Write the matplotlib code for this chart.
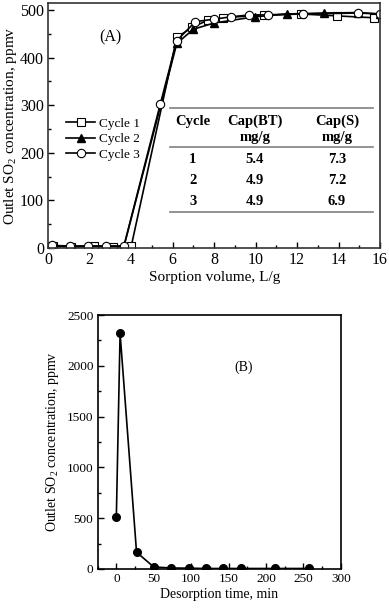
import matplotlib
matplotlib.use("Agg")
import matplotlib.pyplot as plt
from matplotlib.ticker import MultipleLocator

plt.rcParams['font.family'] = ['Liberation Serif', 'DejaVu Serif']
plt.rcParams['mathtext.fontset'] = 'custom'
plt.rcParams['mathtext.rm'] = 'Liberation Serif'

# --- (A) sorption breakthrough, three cycles ---
c1_x = [0.25, 1.1, 2.2, 3.1, 4.0, 6.2, 6.95, 7.7, 8.45, 10.4, 12.2, 13.9, 15.7]
c1_y = [3, 2, 3, 2, 3, 443, 464, 479, 484, 490, 492, 488, 484]
c2_x = [0.2, 1.05, 1.93, 2.78, 3.65, 6.2, 7.0, 8.0, 9.95, 11.5, 13.3, 14.95, 16.0]
c2_y = [4, 3, 3, 3, 3, 430, 460, 473, 486, 492, 494, 495, 492]
c3_x = [0.2, 1.05, 1.93, 2.78, 3.65, 5.4, 6.2, 7.1, 8.0, 8.8, 9.7, 10.6, 12.3, 14.95, 16.0]
c3_y = [5, 4, 4, 4, 4, 302, 436, 476, 481, 486, 490, 490, 492, 494, 492]

table_cycles = ['1', '2', '3']
cap_bt = ['5.4', '4.9', '4.9']
cap_s = ['7.3', '7.2', '6.9']

# --- (B) desorption ---
des_t = [0, 5, 27, 50, 73, 97, 120, 143, 166, 212, 258]
des_c = [510, 2320, 165, 20, 10, 8, 5, 5, 5, 5, 5]

fig = plt.figure(figsize=(3.89, 6.09), dpi=100)
ax1 = fig.add_axes([0.124, 0.593, 0.853, 0.402])
ax2 = fig.add_axes([0.251, 0.0657, 0.625, 0.417])

ylab = 'Outlet SO$_\\mathregular{2}$ concentration, ppmv'

ax1.plot(c1_x, c1_y, color='black', lw=1.2, marker='s', ms=6, mfc='white', mec='black', mew=0.8, label='Cycle 1')
ax1.plot(c2_x, c2_y, color='black', lw=1.2, marker='^', ms=6, mfc='black', mec='black', label='Cycle 2')
ax1.plot(c3_x, c3_y, color='black', lw=1.2, marker='o', ms=6, mfc='white', mec='black', mew=0.8, label='Cycle 3')
ax1.set_xlim(0, 16)
ax1.set_ylim(0, 515)
ax1.xaxis.set_major_locator(MultipleLocator(2))
ax1.xaxis.set_minor_locator(MultipleLocator(1))
ax1.yaxis.set_major_locator(MultipleLocator(100))
ax1.yaxis.set_minor_locator(MultipleLocator(50))
ax1.set_xlabel('Sorption volume, L/g', fontsize=11, labelpad=2)
ax1.set_ylabel(ylab, fontsize=11, labelpad=1)
ax1.text(0.186, 0.861, '(A)', transform=ax1.transAxes, fontsize=11.5, ha='center', va='center')
ax1.legend(loc='upper left', bbox_to_anchor=(0.035, 0.56), frameon=False, fontsize=9.5,
           handlelength=2.2, handletextpad=0.25, labelspacing=0.25, borderaxespad=0.1)

# table inside panel A
bold = dict(fontsize=10.5, fontweight='bold', ha='center', va='center', transform=ax1.transAxes)
col_x = [0.436, 0.623, 0.870]
ax1.plot([0.367, 0.979], [0.571, 0.571], color='gray', lw=1.2, transform=ax1.transAxes)
ax1.plot([0.367, 0.979], [0.412, 0.412], color='gray', lw=1.2, transform=ax1.transAxes)
ax1.plot([0.367, 0.979], [0.147, 0.147], color='gray', lw=1.2, transform=ax1.transAxes)
ax1.text(col_x[0], 0.518, 'Cycle', **bold)
ax1.text(col_x[1], 0.518, 'Cap(BT)', **bold)
ax1.text(col_x[2], 0.518, 'Cap(S)', **bold)
ax1.text(col_x[1], 0.449, 'mg/g', **bold)
ax1.text(col_x[2], 0.449, 'mg/g', **bold)
row_y = [0.362, 0.276, 0.191]
for cyc, bt, s, ry in zip(table_cycles, cap_bt, cap_s, row_y):
    ax1.text(col_x[0], ry, cyc, **bold)
    ax1.text(col_x[1], ry, bt, **bold)
    ax1.text(col_x[2], ry, s, **bold)

ax2.plot(des_t, des_c, color='black', lw=1.2, marker='o', ms=5.5, mfc='black', mec='black')
ax2.set_xlim(-25, 300)
ax2.set_ylim(0, 2500)
ax2.xaxis.set_major_locator(MultipleLocator(50))
ax2.xaxis.set_minor_locator(MultipleLocator(25))
ax2.yaxis.set_major_locator(MultipleLocator(500))
ax2.yaxis.set_minor_locator(MultipleLocator(250))
ax2.set_xlabel('Desorption time, min', fontsize=10, labelpad=2)
ax2.set_ylabel(ylab, fontsize=10, labelpad=4)
ax2.text(0.599, 0.793, '(B)', transform=ax2.transAxes, fontsize=10, ha='center', va='center')

for ax in (ax1, ax2):
    ax.tick_params(which='both', direction='in', top=False, right=False)
    ax.tick_params(which='major', length=4, width=1, pad=3)
    ax.tick_params(which='minor', length=2.5, width=1)
    for sp in ax.spines.values():
        sp.set_linewidth(1.2)
ax1.tick_params(labelsize=11.5)
ax2.tick_params(labelsize=9.5)
for sp in ax1.spines.values():
    sp.set_color('#333333')

fig.savefig('out.png', dpi=100)
